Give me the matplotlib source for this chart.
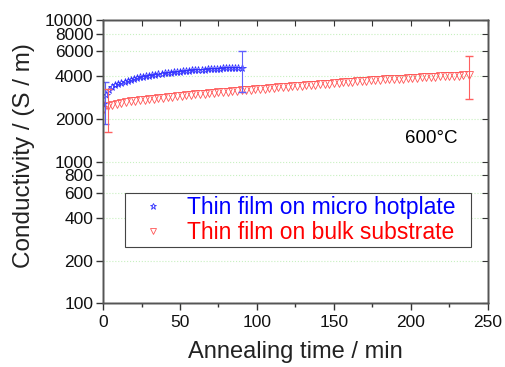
import matplotlib.pyplot as plt
from matplotlib.ticker import FixedLocator, NullLocator

plt.rcParams['font.family'] = ['Liberation Sans', 'DejaVu Sans']

# thin film on micro hotplate
t_hot = [0, 2, 4, 6, 8, 10, 12, 14, 16, 18, 20, 22, 24, 26, 28, 30, 32, 34, 36, 38,
         40, 42, 44, 46, 48, 50, 52, 54, 56, 58, 60, 62, 64, 66, 68, 70, 72, 74, 76,
         78, 80, 82, 84, 86, 88, 90]
s_hot = [2550, 2950, 3200, 3350, 3450, 3520, 3600, 3670, 3730, 3790, 3840, 3890, 3930,
         3970, 4010, 4050, 4080, 4110, 4140, 4170, 4200, 4230, 4250, 4280, 4300, 4320,
         4340, 4360, 4380, 4400, 4420, 4440, 4450, 4470, 4480, 4500, 4510, 4520, 4540,
         4550, 4560, 4570, 4580, 4590, 4600, 4610]
err_hot_t = [1.5, 90]
err_hot_y = [2600, 4610]
err_hot_lo = [1840, 3080]
err_hot_hi = [3660, 6070]

# thin film on bulk substrate
t_bulk = [0, 3, 6, 9, 12, 15, 18, 21, 24, 27, 30, 33, 36, 39, 42, 45, 48, 51, 54, 57,
          60, 63, 66, 69, 72, 75, 78, 81, 84, 87, 90, 93, 96, 99, 102, 105, 108, 111,
          114, 117, 120, 123, 126, 129, 132, 135, 138, 141, 144, 147, 150, 153, 156,
          159, 162, 165, 168, 171, 174, 177, 180, 183, 186, 189, 192, 195, 198, 201,
          204, 207, 210, 213, 216, 219, 222, 225, 228, 231, 234, 238]
s_bulk = [2300, 2450, 2520, 2560, 2600, 2630, 2660, 2690, 2710, 2740, 2760, 2780, 2810,
          2830, 2850, 2880, 2900, 2920, 2940, 2960, 2980, 3000, 3020, 3040, 3060, 3080,
          3100, 3120, 3140, 3160, 3180, 3200, 3220, 3240, 3260, 3280, 3300, 3320, 3340,
          3360, 3380, 3400, 3420, 3440, 3460, 3480, 3500, 3520, 3540, 3560, 3580, 3600,
          3620, 3640, 3660, 3680, 3700, 3720, 3740, 3760, 3780, 3800, 3810, 3830, 3850,
          3860, 3880, 3900, 3910, 3930, 3940, 3960, 3970, 3990, 4000, 4020, 4030, 4050,
          4060, 4080]
err_bulk_t = [3.5, 238]
err_bulk_y = [2350, 4080]
err_bulk_lo = [1630, 2780]
err_bulk_hi = [3250, 5570]

y_ticks = [100, 200, 400, 600, 800, 1000, 2000, 4000, 6000, 8000, 10000]
x_major = [0, 50, 100, 150, 200, 250]
x_minor = [25, 75, 125, 175, 225]

fig = plt.figure(figsize=(5.05, 3.67), dpi=100)
ax = fig.add_axes([0.204, 0.174, 0.762, 0.7715])

ax.plot(t_hot, s_hot, linestyle='none', marker='*', markersize=5.5, markerfacecolor='none',
        markeredgecolor='#3030ff', markeredgewidth=0.6, label='Thin film on micro hotplate')
ax.plot(t_bulk, s_bulk, linestyle='none', marker='v', markersize=5.5, markerfacecolor='none',
        markeredgecolor='#ff5555', markeredgewidth=0.6, label='Thin film on bulk substrate')

ax.errorbar(err_hot_t, err_hot_y,
            yerr=[[y - lo for y, lo in zip(err_hot_y, err_hot_lo)],
                  [hi - y for y, hi in zip(err_hot_y, err_hot_hi)]],
            fmt='none', ecolor='#6060ff', elinewidth=0.8, capsize=3)
ax.errorbar(err_bulk_t, err_bulk_y,
            yerr=[[y - lo for y, lo in zip(err_bulk_y, err_bulk_lo)],
                  [hi - y for y, hi in zip(err_bulk_y, err_bulk_hi)]],
            fmt='none', ecolor='#ff6060', elinewidth=0.8, capsize=3)

ax.set_yscale('log')
ax.set_ylim(100, 10000)
ax.set_xlim(0, 250)
ax.yaxis.set_major_locator(FixedLocator(y_ticks))
ax.yaxis.set_major_formatter(plt.FuncFormatter(lambda v, p: f"{int(v)}"))
ax.yaxis.set_minor_locator(NullLocator())
ax.set_xticks(x_major)
ax.set_xticks(x_minor, minor=True)

ax.tick_params(axis='both', which='both', labelsize=12.5, colors='#333333',
               labelcolor='#111111', width=1.0)
ax.tick_params(axis='y', which='major', direction='out', length=5, pad=2)
ax.tick_params(axis='x', which='major', direction='out', length=5)
ax.tick_params(axis='x', which='minor', direction='out', length=3)

# right and top ticks point inward
axr = ax.twinx()
axr.set_yscale('log')
axr.set_ylim(100, 10000)
axr.yaxis.set_major_locator(FixedLocator(y_ticks))
axr.yaxis.set_minor_locator(NullLocator())
axr.tick_params(axis='y', direction='in', length=4, labelright=False, colors='#333333')
axt = ax.twiny()
axt.set_xlim(0, 250)
axt.set_xticks(x_major + x_minor)
axt.tick_params(axis='x', direction='in', length=4, labeltop=False, colors='#333333')

for a in (ax, axr, axt):
    for s in a.spines.values():
        s.set_color('#555555')
        s.set_linewidth(1.0)

ax.grid(axis='y', which='major', color='#c8f0c0', linestyle=':', linewidth=0.8)

ax.set_xlabel('Annealing time / min', fontsize=17, labelpad=8, color='#222222')
ax.set_ylabel('Conductivity / (S / m)', fontsize=17.5, color='#222222')
ax.yaxis.set_label_coords(-0.177, 0.52)

ax.text(0.784, 0.565, '600°C', transform=ax.transAxes, fontsize=13.5)

leg = ax.legend(loc='upper left', bbox_to_anchor=(0.057, 0.189, 0.899, 0.2),
                mode='expand', fontsize=16.5,
                fancybox=False, edgecolor='#444444', framealpha=1,
                handlelength=2.15, handletextpad=0.42, borderpad=0.15,
                labelspacing=0.05, borderaxespad=0, markerscale=0.9)
leg.get_frame().set_linewidth(0.8)
for txt, c in zip(leg.get_texts(), ['#0000ff', '#ff0000']):
    txt.set_color(c)

fig.savefig('out.png', dpi=100)
